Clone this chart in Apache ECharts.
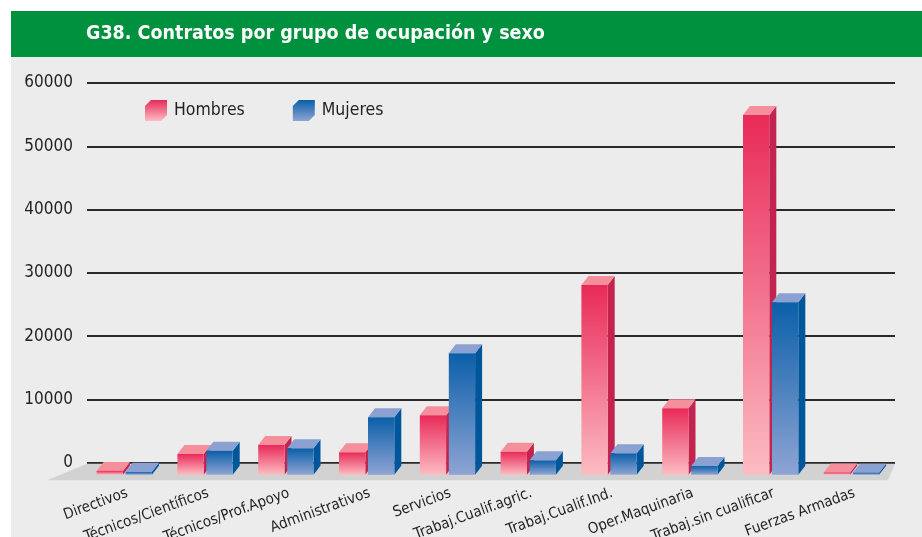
<!DOCTYPE html>
<html>
<head>
<meta charset="utf-8">
<title>G38. Contratos por grupo de ocupación y sexo</title>
<script src="https://cdn.jsdelivr.net/npm/echarts@6/dist/echarts.min.js"></script>
<style>
  html, body { margin: 0; padding: 0; background: #ffffff; }
  #chart { width: 922px; height: 537px; }
</style>
</head>
<body>
<div id="chart"></div>
<script>
// Occupation groups (x axis)
const categories = [
  'Directivos', 'Técnicos/Científicos', 'Técnicos/Prof.Apoyo', 'Administrativos',
  'Servicios', 'Trabaj.Cualif.agric.', 'Trabaj.Cualif.Ind.', 'Oper.Maquinaria',
  'Trabaj.sin cualificar', 'Fuerzas Armadas'
];
// Contracts by sex
const hombres = [600, 3270, 4690, 3540, 9380, 3630, 29970, 10490, 56820, 350];
const mujeres = [450, 3790, 4170, 9070, 19180, 2270, 3380, 1370, 27240, 320];
// Value axis ticks
const yTicks = [0, 10000, 20000, 30000, 40000, 50000, 60000];

const FONT = "'DejaVu Sans Condensed', 'Liberation Sans', sans-serif";

const palette = {
  Hombres: { top: '#f58f9b', side: '#c2234f', front0: '#e92a59', front1: '#fcbcc2' },
  Mujeres: { top: '#8ba1d2', side: '#00569a', front0: '#0b5fa9', front1: '#8ea4d4' }
};

function grad(c0, c1) {
  return new echarts.graphic.LinearGradient(0, 0, 0, 1, [
    { offset: 0, color: c0 }, { offset: 1, color: c1 }
  ]);
}

// Boxes with a front face, a right side and a top face
function boxRenderer(offset, pal) {
  return function (params, api) {
    const idx = api.value(0);
    const val = api.value(1);
    const top = api.coord([idx, val]);
    const base = api.coord([idx, 0]);
    const band = api.size([1, 0])[0];
    const k = band / 80.8;
    const w = 26.3 * k, dx = 7 * k, dy = 9, drop = 12;
    const x0 = top[0] + offset * k;
    const yT = top[1] + drop;
    const yB = base[1] + drop;
    const h = Math.max(yB - yT, 0.8);
    return {
      type: 'group',
      children: [
        { type: 'polygon', shape: { points: [[x0 + w, yB - h], [x0 + w + dx, yB - h - dy], [x0 + w + dx, yB - dy], [x0 + w, yB]] },
          style: { fill: pal.side } },
        { type: 'polygon', shape: { points: [[x0, yB - h], [x0 + dx, yB - h - dy], [x0 + w + dx, yB - h - dy], [x0 + w, yB - h]] },
          style: { fill: pal.top } },
        { type: 'rect', shape: { x: x0, y: yB - h, width: w, height: h },
          style: { fill: grad(pal.front0, pal.front1) } }
      ]
    };
  };
}

// Grey floor under the boxes
function floorRenderer(params, api) {
  const cs = params.coordSys;
  const y0 = api.coord([0, 0])[1];
  return {
    type: 'polygon',
    shape: { points: [[cs.x, y0 + 1], [cs.x + cs.width, y0 + 1], [cs.x + cs.width - 7, y0 + 17.5], [cs.x - 40, y0 + 17.5]] },
    style: { fill: '#d2d2d2' }
  };
}

const cubeIcon = 'path://M0,6 L6,0 L22,0 L22,15 L16,21 L0,21 Z';

const chart = echarts.init(document.getElementById('chart'), null, { renderer: 'canvas' });
chart.setOption({
  animation: false,
  backgroundColor: '#ffffff',
  graphic: [
    { type: 'rect', left: 11, top: 57, z: -10, shape: { width: 911, height: 480 }, style: { fill: '#ececec' } },
    { type: 'rect', left: 11, top: 11, z: -10, shape: { width: 911, height: 46 }, style: { fill: '#00913e' } },
    { type: 'text', left: 86, top: 24, style: { text: 'G38. Contratos por grupo de ocupación y sexo', fill: '#ffffff',
      font: 'bold 19.5px ' + FONT } }
  ],
  legend: {
    left: 140, top: 95, itemWidth: 22, itemHeight: 21, itemGap: 48,
    textStyle: { fontFamily: FONT, fontSize: 17.5, color: '#231f20', padding: [0, 0, 0, 2] },
    data: [
      { name: 'Hombres', icon: cubeIcon, itemStyle: { color: grad(palette.Hombres.front0, palette.Hombres.front1) } },
      { name: 'Mujeres', icon: cubeIcon, itemStyle: { color: grad(palette.Mujeres.front0, palette.Mujeres.front1) } }
    ]
  },
  grid: { left: 87, right: 27, top: 83, bottom: 74.3, containLabel: false, outerBoundsMode: 'none' },
  xAxis: {
    type: 'category', data: categories, boundaryGap: true,
    axisLine: { show: false }, axisTick: { show: false },
    axisLabel: { interval: 0, rotate: 20, margin: 30, fontFamily: FONT, fontSize: 15, color: '#231f20' }
  },
  yAxis: {
    type: 'value', min: yTicks[0], max: yTicks[yTicks.length - 1], interval: yTicks[1] - yTicks[0],
    axisLine: { show: false }, axisTick: { show: false },
    axisLabel: { margin: 14, fontFamily: FONT, fontSize: 17, color: '#231f20', formatter: (v) => String(v) },
    splitLine: { lineStyle: { color: '#2a2a2a', width: 2 } }
  },
  series: [
    { type: 'custom', name: 'floor', renderItem: floorRenderer, data: [[0, 0]], z: 1, silent: true },
    { type: 'custom', name: 'Hombres', renderItem: boxRenderer(-30.8, palette.Hombres), z: 3,
      itemStyle: { color: palette.Hombres.front0 },
      data: hombres.map((v, i) => [i, v]) },
    { type: 'custom', name: 'Mujeres', renderItem: boxRenderer(-1.8, palette.Mujeres), z: 4,
      itemStyle: { color: palette.Mujeres.front0 },
      data: mujeres.map((v, i) => [i, v]) }
  ]
});
</script>
</body>
</html>
